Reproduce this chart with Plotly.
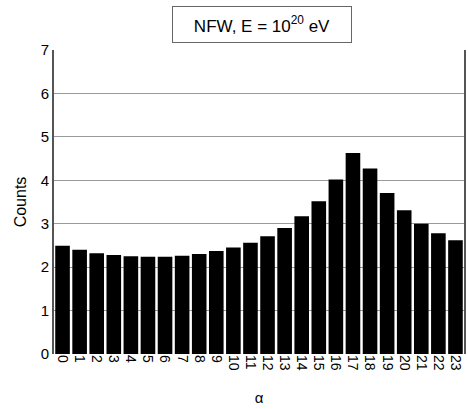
import plotly.graph_objects as go

alpha = [str(i) for i in range(24)]
counts = [2.49, 2.40, 2.32, 2.28, 2.25, 2.24, 2.24, 2.26, 2.30, 2.37, 2.45, 2.56,
          2.71, 2.90, 3.17, 3.52, 4.02, 4.63, 4.27, 3.71, 3.31, 3.00, 2.78, 2.62]
y_ticks = [0, 1, 2, 3, 4, 5, 6, 7]

fig = go.Figure(go.Bar(x=alpha, y=counts, marker=dict(color="black", line=dict(width=0))))

fig.update_layout(
    width=468, height=409,
    margin=dict(l=54, r=2, t=50, b=55),
    plot_bgcolor="white", paper_bgcolor="white",
    bargap=0.145,
    showlegend=False,
    font=dict(family="Liberation Sans, Arial, sans-serif", color="black"),
    xaxis=dict(
        type="category", tickangle=90, tickfont=dict(size=14),
        showgrid=False, showline=False, ticks="",
        title=dict(text="α", font=dict(size=15), standoff=22),
    ),
    yaxis=dict(
        range=[0, 7], tickvals=y_ticks, tickfont=dict(size=15),
        showgrid=True, gridcolor="#9a9a9a", gridwidth=1,
        showline=True, linecolor="#555555", linewidth=2, mirror=True,
        ticks="", zeroline=False,
        title=dict(text="Counts", font=dict(size=16), standoff=10),
    ),
    annotations=[dict(
        text="NFW, E = 10<sup>20</sup> eV",
        xref="paper", yref="paper", x=0.507, y=1.084,
        xanchor="center", yanchor="middle", showarrow=False,
        width=168, height=25, align="center", valign="middle",
        font=dict(size=17, color="black"),
        bordercolor="#666666", borderwidth=1, borderpad=5, bgcolor="white",
    )],
)

fig.write_html(
    "out.html",
    config={"displayModeBar": False},
    post_script="document.body.style.margin='0';document.body.style.overflow='hidden';",
)
